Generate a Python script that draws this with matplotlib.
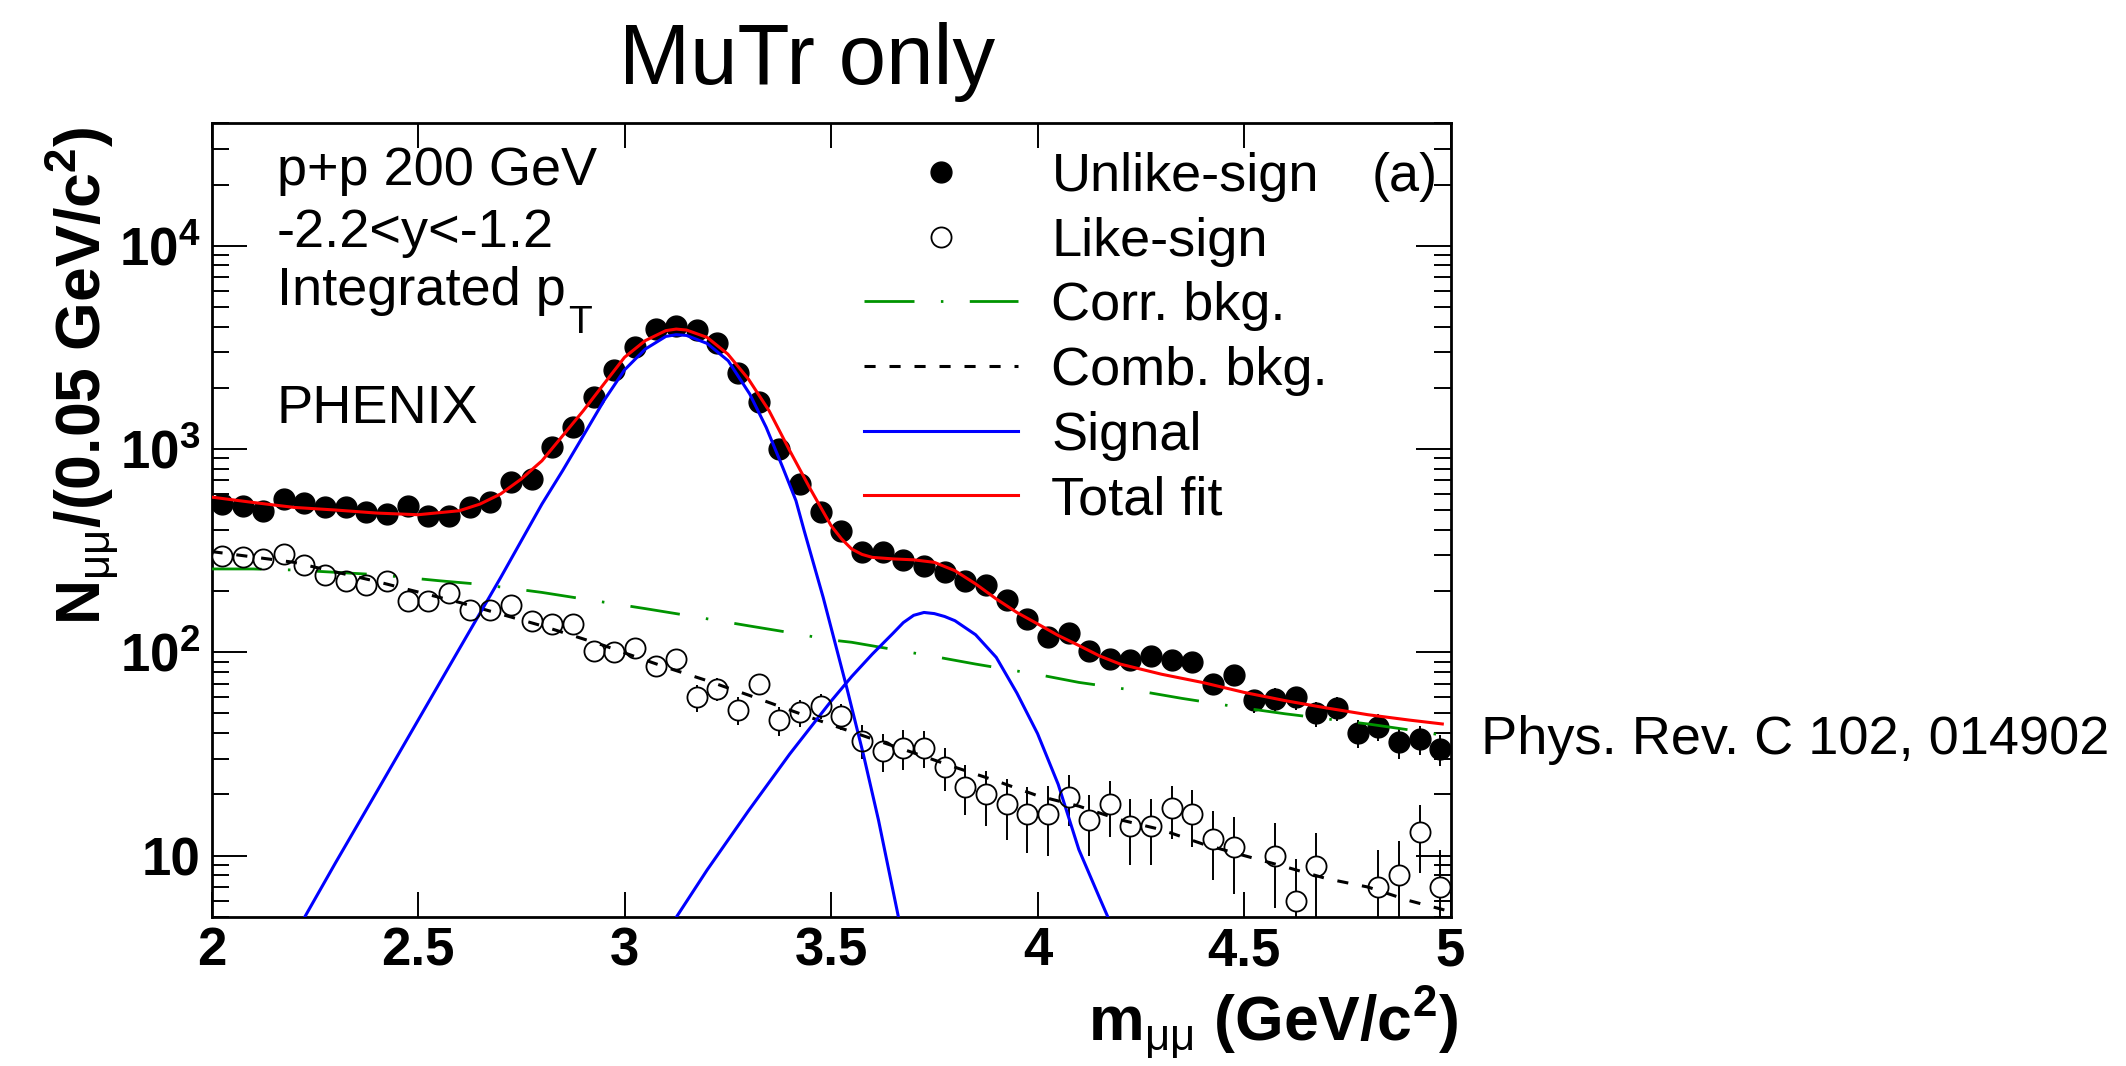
import numpy as np
import matplotlib
matplotlib.use("Agg")
import matplotlib.pyplot as plt
from matplotlib.lines import Line2D
from matplotlib.ticker import LogLocator, NullFormatter, NullLocator

plt.rcParams['font.family'] = ['Liberation Sans', 'DejaVu Sans']
plt.rcParams['mathtext.fontset'] = 'custom'
plt.rcParams['mathtext.rm'] = 'Liberation Sans'
plt.rcParams['mathtext.it'] = 'Liberation Sans:italic'
plt.rcParams['mathtext.bf'] = 'Liberation Sans:bold'
plt.rcParams['lines.scale_dashes'] = False

# 50 MeV bins from 2 to 5 GeV/c^2
mass = np.round(np.arange(2.025, 5.0, 0.05), 3)

unlike = [536, 526, 497, 568, 540, 516, 516, 488, 479, 526,
          470, 470, 516, 546, 685, 711, 1018, 1277, 1795, 2450,
          3162, 3890, 4037, 3846, 3305, 2355, 1694, 1000, 673, 488,
          395, 310, 313, 284, 267, 247, 223, 215, 181, 146,
          119, 124, 102, 93, 92, 96, 92, 90, 70, 77,
          58, 59, 60, 50, 53, 40, 43, 36, 37.5, 33.5]
unlike_err = [23, 23, 22, 24, 23, 23, 23, 22, 22, 23,
              22, 22, 23, 23, 26, 27, 32, 36, 42, 50,
              56, 62, 64, 62, 57, 49, 41, 32, 26, 22,
              20, 18, 18, 17, 16, 16, 15, 15, 13, 12,
              11, 11, 10, 10, 10, 10, 10, 9.5, 8.4, 8.8,
              7.6, 7.7, 7.7, 7.1, 7.3, 6.3, 6.5, 6, 6.1, 5.8]

like = [298, 293, 288, 305, 270, 241, 223, 215, 223, 178,
        178, 195, 161, 161, 170, 143, 137, 137, 101, 100,
        105, 86, 92.7, 60, 66, 52, 70, 46.4, 50.6, 54.6,
        48.7, 36.7, 32.8, 33.8, 34, 27.2, 21.8, 20, 17.9, 16,
        16, 19.4, 14.9, 17.9, 14, 14, 17.1, 16, 12.1, 11,
        np.nan, 10, 6.0, 8.9, np.nan, np.nan, 7.0, 8.0, 13, 7.0]
like_err = [17, 17, 17, 17, 16, 16, 15, 15, 15, 13,
            13, 14, 13, 13, 13, 12, 12, 12, 10, 10,
            10, 9, 9.5, 9, 8.5, 8, 8.5, 7.5, 7.5, 7.5,
            7, 7, 7, 7.5, 7, 6.5, 6, 6, 6, 5.7,
            6, 5.5, 5, 5.5, 5, 5, 5, 5, 4.5, 4.5,
            np.nan, 4.5, 3.6, 4, np.nan, np.nan, 3.6, 3.8, 4.8, 3.6]

# fit curves
total_x = [2.0, 2.1, 2.2, 2.3, 2.4, 2.5, 2.6, 2.65, 2.7, 2.75, 2.8, 2.85, 2.9, 2.95,
           3.0, 3.05, 3.1, 3.125, 3.15, 3.2, 3.25, 3.3, 3.35, 3.4, 3.45, 3.5, 3.525,
           3.55, 3.575, 3.6, 3.65, 3.7, 3.75, 3.8, 3.85, 3.9, 3.95, 4.0, 4.05, 4.1,
           4.15, 4.2, 4.3, 4.4, 4.5, 4.6, 4.7, 4.8, 4.9, 4.98]
total_y = [580, 546, 516, 501, 484, 475, 497, 536, 601, 712, 875, 1161, 1542, 2089,
           2826, 3412, 3822, 3890, 3848, 3539, 2931, 2208, 1542, 981, 635, 420, 362,
           322, 303, 293, 288, 285, 277, 252, 217, 183, 157, 138, 121, 108,
           96, 87.5, 78, 71, 63.5, 57.8, 53.2, 49.3, 46.4, 44.4]

jpsi_x = [2.226, 2.3, 2.4, 2.5, 2.6, 2.7, 2.763, 2.8, 2.85, 2.9, 2.95, 3.0, 3.05,
          3.1, 3.125, 3.15, 3.2, 3.251, 3.303, 3.343, 3.383, 3.415, 3.435, 3.481,
          3.538, 3.578, 3.615, 3.663]
jpsi_y = [5, 9.2, 20.6, 46.3, 104, 233, 394, 536, 782, 1161, 1729, 2450, 3100,
          3580, 3650, 3620, 3306, 2717, 1866, 1277, 812, 557, 396, 186,
          67, 31.6, 14.9, 5]

psi2s_x = [3.126, 3.2, 3.3, 3.4, 3.5, 3.55, 3.6, 3.65, 3.675, 3.7, 3.725, 3.75,
           3.775, 3.8, 3.85, 3.9, 3.95, 4.0, 4.05, 4.1, 4.15, 4.17]
psi2s_y = [5, 8.5, 16.6, 31.6, 57.5, 76, 98, 124, 140, 152, 157, 155,
           150, 143, 122, 94.4, 63, 39.8, 22.4, 10.7, 6.2, 5]

corr_x = [2.0, 2.1, 2.2, 2.4, 2.55, 2.65, 2.8, 2.9, 3.05, 3.15, 3.3, 3.4, 3.5, 3.55,
          3.75, 3.85, 4.0, 4.1, 4.25, 4.35, 4.5, 4.6, 4.8, 4.9, 4.97]
corr_y = [257, 257, 254, 241, 225, 216, 197, 183, 164, 152, 135, 125, 115, 112,
          95.3, 87.5, 77.8, 71.1, 64.3, 59.3, 53.2, 49.8, 44.4, 41.5, 39.4]

comb_x = [2.0, 2.2, 2.4, 2.45, 2.6, 2.8, 2.95, 3.0, 3.1, 3.2, 3.3, 3.4, 3.5, 3.6,
          3.7, 3.8, 3.9, 4.0, 4.1, 4.2, 4.3, 4.4, 4.5, 4.6, 4.7, 4.8, 4.9, 4.985]
comb_y = [313, 277, 223, 210, 176, 135, 108, 99.3, 84.4, 72.5, 61.6, 52, 44, 37.5,
          32, 27.2, 23.3, 19.7, 17.5, 15, 13.4, 11.4, 10, 8.8, 7.7, 7.0, 6.0, 5.4]

xtick_vals = [2, 2.5, 3, 3.5, 4, 4.5, 5]
xtick_labels = ['2', '2.5', '3', '3.5', '4', '4.5', '5']
ytick_vals = [10, 100, 1000, 10000]
ytick_labels = ['10', r'$\mathbf{10^{2}}$', r'$\mathbf{10^{3}}$', r'$\mathbf{10^{4}}$']

green = '#009400'
corr_dash = (0, (36, 19, 1.8, 19))
comb_dash = (0, (8, 10))

fig = plt.figure(figsize=(21.26, 10.66), dpi=100)
ax = fig.add_axes([0.0995, 0.140, 0.5828, 0.7443])
ax.set_yscale('log')

# data points
ax.errorbar(mass, like, yerr=like_err, fmt='none', ecolor='black', elinewidth=1.4, zorder=2)
ax.plot(mass, like, 'o', ms=14.5, mfc='white', mec='none', zorder=3)
ax.errorbar(mass, unlike, yerr=unlike_err, fmt='none', ecolor='black', elinewidth=1.4, zorder=2)
ax.plot(mass, unlike, 'o', ms=15, color='black', zorder=3)

# fit components
ax.plot(corr_x, corr_y, color=green, lw=2.0, linestyle=corr_dash, dash_capstyle='butt', zorder=4)
ax.plot(comb_x, comb_y, color='black', lw=2.2, linestyle=comb_dash, dash_capstyle='butt', zorder=4)
ax.plot(jpsi_x, jpsi_y, color='#0000ff', lw=2.2, zorder=4)
ax.plot(psi2s_x, psi2s_y, color='#0000ff', lw=2.2, zorder=4)
ax.plot(total_x, total_y, color='#ff0000', lw=2.2, zorder=4)
ax.plot(mass, like, 'o', ms=14.5, mfc='none', mec='black', mew=1.3, zorder=5)

ax.set_xlim(2, 5)
ax.set_ylim(5, 4e4)
ax.set_xticks(xtick_vals, xtick_labels, fontsize=38, fontweight='bold')
ax.set_yticks(ytick_vals, ytick_labels, fontsize=38, fontweight='bold')
ax.xaxis.set_minor_locator(NullLocator())
ax.yaxis.set_minor_locator(LogLocator(base=10, subs=np.arange(2, 10)))
ax.yaxis.set_minor_formatter(NullFormatter())
ax.tick_params(which='both', direction='in', top=True, right=True, width=1.4)
ax.tick_params(axis='x', which='major', length=18, pad=7)
ax.tick_params(axis='y', which='major', length=25, pad=8)
ax.tick_params(axis='y', which='minor', length=12)
for s in ax.spines.values():
    s.set_linewidth(2)

# legend
handles = [
    Line2D([], [], marker='o', ls='none', ms=15, color='black'),
    Line2D([], [], marker='o', ls='none', ms=14.5, mfc='white', mec='black', mew=1.3),
    Line2D([], [], color=green, lw=2.0, linestyle=corr_dash, dash_capstyle='butt'),
    Line2D([], [], color='black', lw=2.2, linestyle=comb_dash, dash_capstyle='butt'),
    Line2D([], [], color='#0000ff', lw=2.2),
    Line2D([], [], color='#ff0000', lw=2.2),
]
labels = ['Unlike-sign', 'Like-sign', 'Corr. bkg.', 'Comb. bkg.', 'Signal', 'Total fit']
ax.legend(handles, labels, loc='upper left', bbox_to_anchor=(0.5266, 0.9638),
          frameon=False, fontsize=39, handlelength=2.84, handletextpad=0.62,
          labelspacing=0.27, borderpad=0, borderaxespad=0, numpoints=1)
ax.text(0.9364, 0.915, '(a)', transform=ax.transAxes, fontsize=39, va='baseline')

# labels on the plot
ax.text(0.0526, 0.9222, 'p+p 200 GeV', transform=ax.transAxes, fontsize=39, va='baseline')
ax.text(0.0526, 0.8445, '-2.2<y<-1.2', transform=ax.transAxes, fontsize=39, va='baseline')
t = ax.text(0.0526, 0.771, 'Integrated p', transform=ax.transAxes, fontsize=39, va='baseline')
ax.annotate('T', xy=(1, 0), xycoords=t, xytext=(2, 8), textcoords='offset points',
            fontsize=28, va='top', ha='left')
ax.text(0.0526, 0.6219, 'PHENIX', transform=ax.transAxes, fontsize=39, va='baseline')

fig.text(100 / 2126, 1 - 127 / 1066, r'N$_{\mathrm{μμ}}$/(0.05 GeV/c$^{\mathbf{2}}$)',
         rotation=90, rotation_mode='anchor', ha='right', va='baseline',
         fontsize=45, fontweight='bold')
fig.text(1458 / 2126, 1 - 1040 / 1066, r'm$_{\mathrm{μμ}}$ (GeV/c$^{\mathbf{2}}$)',
         ha='right', va='baseline', fontsize=45, fontweight='bold')

fig.text(807 / 2126, 1 - 84 / 1066, 'MuTr only', ha='center', va='baseline', fontsize=61.5)
fig.text(1481 / 2126, 1 - 754 / 1066, 'Phys. Rev. C 102, 014902', ha='left',
         va='baseline', fontsize=39)
# next panel's title, cut by the lower edge
fig.text(817 / 2126, 1 - 1128 / 1066, 'MuTr+FVTX', ha='center', va='baseline', fontsize=61.5)

fig.savefig('out.png', dpi=100)
